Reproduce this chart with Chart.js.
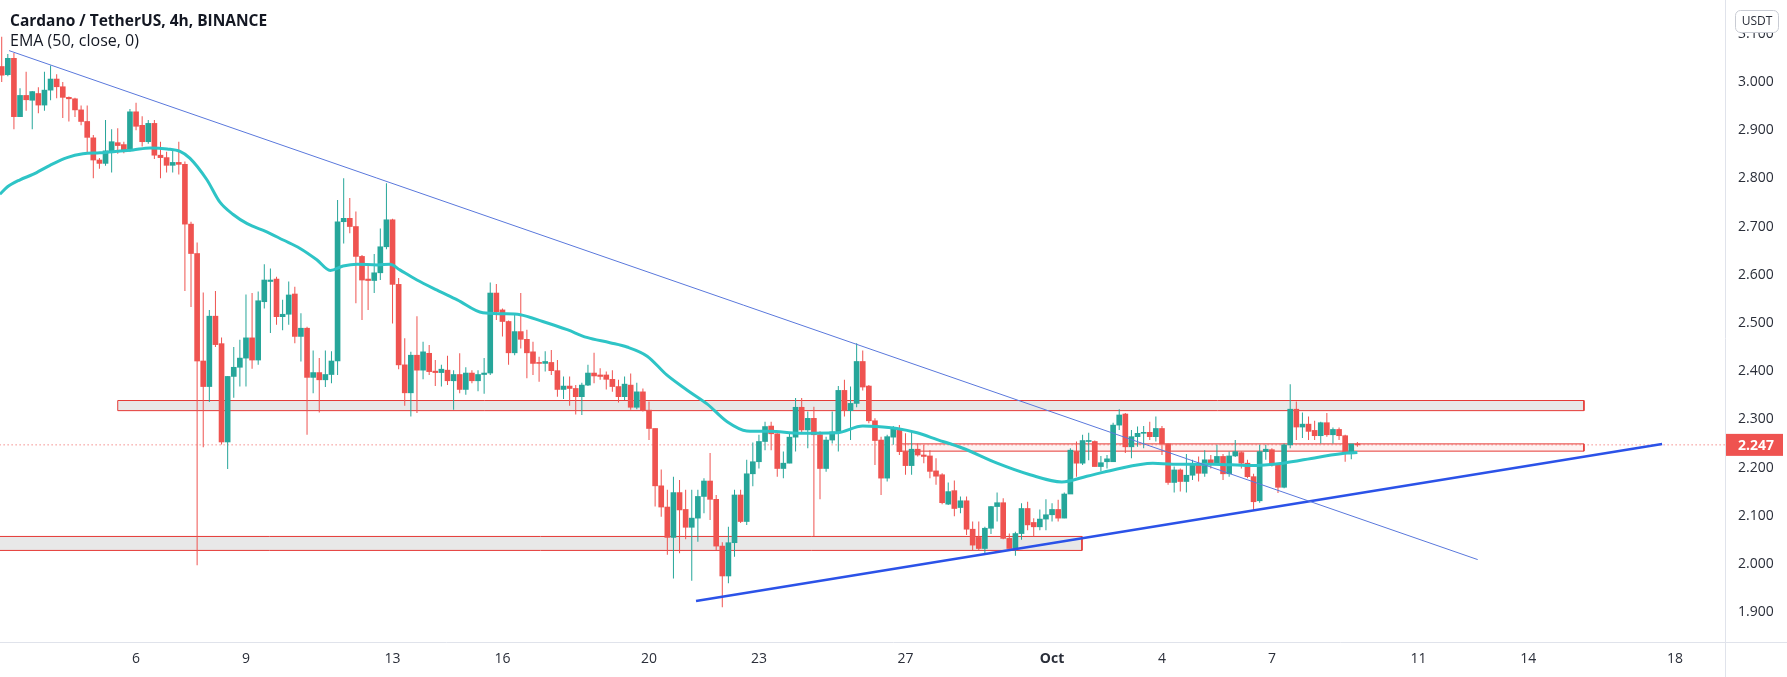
<!DOCTYPE html>
<html>
<head>
<meta charset="utf-8">
<script src="https://cdn.jsdelivr.net/npm/chart.js@4.4.1/dist/chart.umd.min.js"></script>
<style>
  html, body { margin: 0; padding: 0; background: #fff; }
  #wrap { width: 1787px; height: 677px; }
</style>
</head>
<body>
<div id="wrap"><canvas id="chart" width="1787" height="677"></canvas></div>
<script>
// ADA/USDT 4h candles, first bar = 2 Sep 08:00, one index per 4h bar
const opens = [
  3.032,3.015,3.049,2.928,2.972,2.962,2.976,2.952,2.983,3.006,2.990,2.968,2.965,2.942,2.918,2.884,2.838,2.831,2.857,2.874,
  2.870,2.859,2.938,2.910,2.876,2.914,2.848,2.843,2.827,2.833,2.829,2.705,2.644,2.421,2.368,2.514,2.457,2.253,2.389,2.408,
  2.427,2.469,2.423,2.544,2.586,2.591,2.513,2.518,2.560,2.472,2.489,2.387,2.397,2.382,2.393,2.421,2.710,2.717,2.700,2.638,
  2.591,2.588,2.604,2.658,2.714,2.580,2.413,2.355,2.433,2.402,2.437,2.400,2.397,2.402,2.380,2.393,2.362,2.396,2.380,2.393,
  2.396,2.562,2.527,2.503,2.438,2.482,2.466,2.440,2.418,2.416,2.418,2.401,2.362,2.369,2.364,2.347,2.371,2.396,2.392,2.392,
  2.383,2.368,2.347,2.371,2.325,2.357,2.319,2.281,2.162,2.118,2.055,2.148,2.113,2.076,2.095,2.140,2.172,2.134,2.037,1.975,
  2.044,2.143,2.088,2.187,2.212,2.254,2.286,2.270,2.198,2.209,2.263,2.325,2.278,2.302,2.268,2.198,2.257,2.274,2.360,2.318,
  2.333,2.420,2.369,2.297,2.257,2.178,2.263,2.281,2.233,2.204,2.238,2.226,2.224,2.193,2.185,2.124,2.152,2.117,2.131,2.072,
  2.055,2.032,2.074,2.119,2.127,2.053,2.032,2.063,2.115,2.086,2.077,2.093,2.102,2.113,2.095,2.145,2.233,2.209,2.254,2.254,
  2.202,2.212,2.212,2.288,2.311,2.243,2.264,2.271,2.273,2.264,2.281,2.249,2.169,2.195,2.171,2.184,2.205,2.188,2.216,2.210,
  2.223,2.187,2.224,2.231,2.209,2.181,2.131,2.233,2.237,2.205,2.159,2.247,2.321,2.284,2.290,2.277,2.266,2.293,2.268,2.279,
  2.266,2.233,2.249
];
const highs = [
  3.094,3.058,3.060,2.987,3.021,2.981,2.989,3.021,3.034,3.016,3.000,2.970,2.967,2.951,2.951,2.890,2.842,2.921,2.902,2.904,
  2.876,2.944,2.957,2.929,2.921,2.921,2.876,2.855,2.857,2.876,2.835,2.710,2.667,2.563,2.527,2.566,2.470,2.390,2.450,2.465,
  2.559,2.562,2.565,2.622,2.613,2.596,2.548,2.586,2.575,2.520,2.492,2.443,2.427,2.443,2.441,2.755,2.800,2.759,2.731,2.641,
  2.620,2.643,2.696,2.790,2.716,2.593,2.468,2.440,2.514,2.461,2.454,2.423,2.413,2.432,2.402,2.437,2.408,2.402,2.402,2.427,
  2.584,2.581,2.530,2.505,2.517,2.562,2.486,2.461,2.430,2.441,2.444,2.423,2.389,2.389,2.371,2.376,2.413,2.438,2.406,2.399,
  2.402,2.382,2.389,2.395,2.376,2.364,2.337,2.281,2.196,2.154,2.181,2.174,2.154,2.154,2.154,2.178,2.230,2.143,2.045,2.077,
  2.154,2.154,2.216,2.252,2.268,2.295,2.295,2.271,2.233,2.272,2.344,2.344,2.316,2.326,2.275,2.264,2.316,2.369,2.382,2.368,
  2.458,2.443,2.371,2.302,2.264,2.268,2.286,2.288,2.271,2.274,2.250,2.247,2.236,2.219,2.188,2.169,2.173,2.140,2.140,2.088,
  2.088,2.077,2.120,2.148,2.136,2.063,2.067,2.126,2.129,2.095,2.113,2.134,2.126,2.133,2.148,2.240,2.254,2.268,2.272,2.256,
  2.224,2.226,2.293,2.321,2.313,2.278,2.285,2.286,2.295,2.306,2.286,2.250,2.202,2.198,2.228,2.216,2.223,2.236,2.226,2.247,
  2.228,2.233,2.257,2.233,2.216,2.187,2.247,2.247,2.240,2.209,2.250,2.373,2.337,2.314,2.306,2.297,2.295,2.313,2.283,2.283,
  2.268,2.249,2.253
];
const lows = [
  3.000,3.012,2.902,2.928,2.940,2.902,2.935,2.940,2.962,2.966,2.925,2.918,2.927,2.910,2.851,2.800,2.820,2.826,2.812,2.851,
  2.852,2.855,2.900,2.866,2.872,2.840,2.800,2.812,2.812,2.808,2.566,2.533,1.997,2.242,2.336,2.450,2.248,2.197,2.345,2.368,
  2.368,2.405,2.413,2.530,2.479,2.496,2.485,2.496,2.458,2.420,2.268,2.354,2.314,2.367,2.375,2.392,2.665,2.686,2.541,2.506,
  2.527,2.562,2.589,2.653,2.499,2.404,2.328,2.306,2.313,2.383,2.392,2.369,2.368,2.371,2.320,2.354,2.351,2.375,2.358,2.353,
  2.392,2.506,2.472,2.413,2.433,2.447,2.385,2.392,2.378,2.399,2.392,2.347,2.342,2.328,2.310,2.309,2.369,2.375,2.382,2.362,
  2.357,2.335,2.340,2.320,2.321,2.316,2.257,2.119,2.098,2.019,1.970,2.022,2.051,1.965,2.046,2.105,2.091,2.029,1.910,1.960,
  2.015,2.085,2.081,2.161,2.198,2.236,2.236,2.181,2.178,2.209,2.233,2.271,2.240,2.058,2.134,2.191,2.250,2.233,2.306,2.257,
  2.325,2.360,2.292,2.205,2.143,2.171,2.247,2.226,2.185,2.185,2.223,2.209,2.178,2.164,2.124,2.122,2.099,2.105,2.060,2.029,
  2.029,2.022,2.062,2.088,2.051,2.032,2.017,2.050,2.070,2.057,2.070,2.070,2.088,2.088,2.095,2.145,2.181,2.205,2.215,2.202,
  2.192,2.198,2.212,2.278,2.230,2.219,2.243,2.240,2.257,2.254,2.226,2.164,2.148,2.150,2.148,2.174,2.171,2.181,2.198,2.205,
  2.174,2.181,2.222,2.198,2.178,2.112,2.127,2.216,2.202,2.147,2.157,2.240,2.257,2.261,2.257,2.257,2.250,2.264,2.250,2.257,
  2.212,2.217,2.243
];
const closes = [
  3.014,3.049,2.928,2.972,2.963,2.980,2.952,2.983,3.006,2.990,2.968,2.965,2.942,2.918,2.885,2.838,2.831,2.857,2.876,2.868,
  2.859,2.938,2.908,2.876,2.914,2.848,2.843,2.827,2.833,2.829,2.705,2.644,2.421,2.368,2.514,2.455,2.253,2.389,2.408,2.427,
  2.469,2.423,2.546,2.589,2.589,2.513,2.518,2.558,2.472,2.489,2.387,2.397,2.382,2.393,2.421,2.710,2.717,2.700,2.638,2.589,
  2.588,2.604,2.658,2.714,2.580,2.413,2.355,2.433,2.402,2.440,2.399,2.397,2.404,2.380,2.393,2.362,2.396,2.380,2.393,2.396,
  2.562,2.523,2.503,2.438,2.482,2.466,2.438,2.416,2.416,2.420,2.401,2.362,2.369,2.364,2.347,2.371,2.396,2.390,2.389,2.383,
  2.368,2.347,2.373,2.325,2.357,2.319,2.281,2.162,2.118,2.055,2.148,2.112,2.076,2.095,2.140,2.172,2.134,2.037,1.975,2.044,
  2.143,2.088,2.187,2.212,2.254,2.285,2.270,2.198,2.209,2.263,2.325,2.278,2.302,2.268,2.198,2.257,2.274,2.360,2.318,2.333,
  2.420,2.367,2.297,2.256,2.178,2.264,2.281,2.233,2.204,2.238,2.226,2.223,2.192,2.182,2.127,2.150,2.115,2.131,2.072,2.039,
  2.032,2.074,2.119,2.127,2.053,2.032,2.063,2.115,2.081,2.077,2.093,2.102,2.113,2.095,2.145,2.236,2.209,2.256,2.256,2.202,
  2.210,2.218,2.288,2.309,2.243,2.264,2.271,2.273,2.264,2.281,2.249,2.169,2.195,2.171,2.184,2.205,2.188,2.216,2.210,2.223,
  2.187,2.224,2.233,2.209,2.181,2.129,2.233,2.238,2.205,2.159,2.247,2.321,2.284,2.290,2.275,2.266,2.293,2.268,2.279,2.266,
  2.233,2.249,2.247
];

// EMA (50), positions in bar units
const emaBars = [-0.3,0.9,3.0,5.1,7.9,10.7,13.3,16.1,18.9,21.5,24.3,27.1,29.2,30.8,33.6,35.7,37.9,40.2,43.4,46.1,
  48.8,51.6,53.8,55.9,58.2,61.5,63.6,65.2,68.0,71.3,74.6,78.8,82.1,84.9,88.6,92.6,95.8,99.6,102.4,105.7,
  108.9,112.2,115.5,118.8,122.0,125.8,130.7,136.8,141.0,143.3,146.6,149.9,153.2,157.4,163.0,168.4,173.6,177.7,182.0,188.5,
  191.8,198.3,204.4,209.8,215.4,220.3,222.0];
const emaValues = [2.767,2.782,2.797,2.808,2.827,2.843,2.851,2.853,2.856,2.859,2.863,2.861,2.856,2.842,2.797,2.751,2.725,2.706,2.689,2.672,
  2.655,2.631,2.609,2.618,2.622,2.620,2.622,2.610,2.589,2.568,2.548,2.521,2.519,2.517,2.503,2.486,2.470,2.459,2.450,2.431,
  2.392,2.361,2.332,2.295,2.276,2.275,2.271,2.272,2.286,2.285,2.281,2.272,2.258,2.240,2.209,2.185,2.170,2.182,2.195,2.209,
  2.207,2.207,2.204,2.209,2.221,2.230,2.231];

// drawings
const downTrendBars = [1.2, 241.7];
const downTrendPrices = [3.065, 2.009];
const upTrendBars = [113.7, 271.9];
const upTrendPrices = [1.923, 2.249];
const zoneStart = [19.0, -2, 146.8];
const zoneEnd = [259.1, 176.9, 259.1];
const zoneLow = [2.318, 2.028, 2.234];
const zoneHigh = [2.339, 2.057, 2.249];
const zoneFill = ['rgba(200,200,200,0.42)', 'rgba(200,200,200,0.42)', 'rgba(239,83,80,0.08)'];
const lastPrice = 2.247;

// axes
const tickBars = [22, 40, 64, 82, 106, 124, 148, 172, 190, 208, 232, 250, 274];
const tickLabels = ['6', '9', '13', '16', '20', '23', '27', 'Oct', '4', '7', '11', '14', '18'];
const priceTicks = [1.9, 2.0, 2.1, 2.2, 2.3, 2.4, 2.5, 2.6, 2.7, 2.8, 2.9, 3.0, 3.1];

const UP = '#26a69a';
const DOWN = '#ef5350';
const TEXT = '#2a2e39';
const FONT = '"Open Sans", "Noto Sans", sans-serif';

const idx = opens.map((_, i) => i);
const candleColors = idx.map(i => closes[i] >= opens[i] ? UP : DOWN);

const zoneSets = zoneStart.map((x0, i) => ({
    type: 'line',
    data: [
        { x: x0, y: zoneLow[i] }, { x: x0, y: zoneHigh[i] },
        { x: zoneEnd[i], y: zoneHigh[i] }, { x: zoneEnd[i], y: zoneLow[i] },
        { x: x0, y: zoneLow[i] }
    ],
    borderColor: '#e53935',
    borderWidth: 1,
    backgroundColor: zoneFill[i],
    fill: 'shape',
    pointRadius: 0,
    tension: 0,
    order: 10
}));

// overlay: legend text, axis separators, price badges
const overlay = {
    id: 'overlay',
    afterDraw(chart) {
        const ctx = chart.ctx;
        const area = chart.chartArea;
        const yScale = chart.scales.y;
        ctx.save();

        ctx.strokeStyle = '#e0e3eb';
        ctx.lineWidth = 1;
        ctx.beginPath();
        ctx.moveTo(Math.round(area.right) + 0.5, 0);
        ctx.lineTo(Math.round(area.right) + 0.5, chart.height);
        ctx.moveTo(0, Math.round(area.bottom) + 0.5);
        ctx.lineTo(chart.width, Math.round(area.bottom) + 0.5);
        ctx.stroke();

        // last price badge
        const py = yScale.getPixelForValue(lastPrice);
        ctx.fillStyle = DOWN;
        ctx.fillRect(area.right + 1, py - 11, 57, 22);
        ctx.fillStyle = '#fff';
        ctx.font = 'bold 14px ' + FONT;
        ctx.textBaseline = 'middle';
        ctx.textAlign = 'left';
        ctx.fillText(lastPrice.toFixed(3), area.right + 13, py + 1);

        // currency badge
        ctx.fillStyle = '#fff';
        ctx.strokeStyle = '#c9ccd4';
        ctx.beginPath();
        ctx.roundRect(area.right + 10.5, 10.5, 43, 22, 5);
        ctx.fill();
        ctx.stroke();
        ctx.fillStyle = TEXT;
        ctx.font = '12px ' + FONT;
        ctx.textAlign = 'center';
        ctx.fillText('USDT', area.right + 32, 22);

        // legend
        ctx.textAlign = 'left';
        ctx.textBaseline = 'alphabetic';
        ctx.fillStyle = '#131722';
        ctx.font = 'bold 15.5px ' + FONT;
        ctx.fillText('Cardano / TetherUS, 4h, BINANCE', 10, 26);
        ctx.font = '16px ' + FONT;
        ctx.fillText('EMA (50, close, 0)', 10, 46);
        ctx.restore();
    }
};

new Chart(document.getElementById('chart'), {
    type: 'bar',
    data: {
        datasets: [
            ...zoneSets,
            {
                type: 'line',
                data: [{ x: -1, y: lastPrice }, { x: 290, y: lastPrice }],
                borderColor: DOWN,
                borderWidth: 1,
                borderDash: [1, 3],
                pointRadius: 0,
                order: 9
            },
            {
                label: 'wick',
                data: idx.map(i => ({ x: i, y: [lows[i], highs[i]] })),
                backgroundColor: candleColors,
                barThickness: 1,
                grouped: false,
                inflateAmount: 0,
                order: 6
            },
            {
                label: 'body',
                data: idx.map(i => ({ x: i, y: [opens[i], closes[i]] })),
                backgroundColor: candleColors,
                barThickness: 5,
                minBarLength: 1,
                grouped: false,
                order: 5
            },
            {
                type: 'line',
                label: 'EMA',
                data: emaBars.map((b, i) => ({ x: b, y: emaValues[i] })),
                borderColor: '#2ec4c6',
                borderWidth: 3,
                pointRadius: 0,
                cubicInterpolationMode: 'monotone',
                order: 2
            },
            {
                type: 'line',
                data: downTrendBars.map((b, i) => ({ x: b, y: downTrendPrices[i] })),
                borderColor: '#5a78dc',
                borderWidth: 1,
                pointRadius: 0,
                order: 1
            },
            {
                type: 'line',
                data: upTrendBars.map((b, i) => ({ x: b, y: upTrendPrices[i] })),
                borderColor: '#2b52e8',
                borderWidth: 2.5,
                pointRadius: 0,
                order: 1
            }
        ]
    },
    options: {
        responsive: false,
        animation: false,
        events: [],
        devicePixelRatio: 1,
        layout: { padding: 0, autoPadding: false },
        plugins: {
            legend: { display: false },
            tooltip: { enabled: false }
        },
        scales: {
            x: {
                type: 'linear',
                min: -0.28,
                max: 282.2,
                offset: false,
                grid: { display: false, drawTicks: false },
                border: { display: false },
                afterBuildTicks: axis => { axis.ticks = tickBars.map(v => ({ value: v })); },
                afterFit: axis => { axis.height = 35; axis.paddingLeft = 0; axis.paddingRight = 0; },
                ticks: {
                    autoSkip: false,
                    maxRotation: 0,
                    padding: 9,
                    color: TEXT,
                    font: ctx => ({ family: FONT, size: 14, weight: tickLabels[ctx.index] === 'Oct' ? 'bold' : 'normal' }),
                    callback: v => tickLabels[tickBars.indexOf(v)]
                }
            },
            y: {
                position: 'right',
                min: 1.838,
                max: 3.170,
                grid: { display: false, drawTicks: false },
                border: { display: false },
                afterBuildTicks: axis => { axis.ticks = priceTicks.map(v => ({ value: v })); },
                afterFit: axis => { axis.width = 62; axis.paddingTop = 0; axis.paddingBottom = 0; },
                ticks: {
                    padding: 13,
                    color: TEXT,
                    font: { family: FONT, size: 14 },
                    callback: v => v.toFixed(3)
                }
            }
        }
    },
    plugins: [overlay]
});
</script>
</body>
</html>
